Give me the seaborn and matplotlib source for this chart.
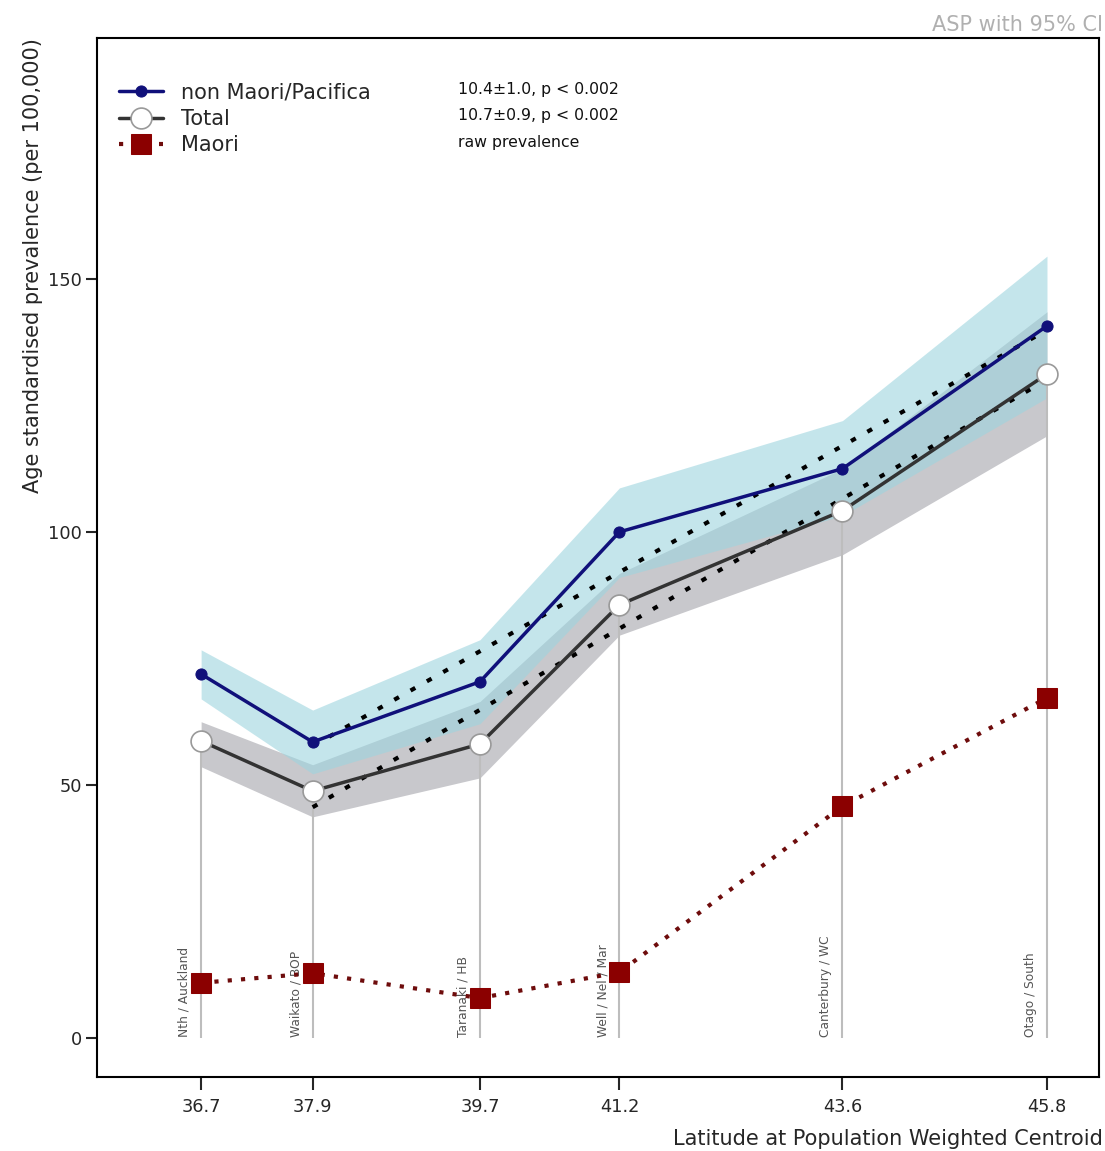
"""Age standardised prevalence by latitude of population weighted centroid."""

import matplotlib
matplotlib.use("Agg")
import matplotlib.pyplot as plt
import matplotlib.transforms as mtransforms
import seaborn as sns

sns.set_style("ticks")
plt.rcParams["font.family"] = ["DejaVu Sans"]

# --------------------------------------------------------------------------
# Data
# --------------------------------------------------------------------------

latitude = [36.7, 37.9, 39.7, 41.2, 43.6, 45.8]
regions = ["Nth / Auckland", "Waikato / BOP", "Taranaki / HB",
           "Well / Nel / Mar", "Canterbury / WC", "Otago / South"]

nonmaori = [71.9, 58.5, 70.4, 100.0, 112.5, 140.7]
nonmaori_lo = [67.0, 52.2, 62.1, 91.0, 103.2, 126.5]
nonmaori_hi = [76.7, 64.8, 78.7, 108.7, 122.0, 154.5]

total = [58.7, 48.8, 58.1, 85.6, 104.2, 131.2]
total_lo = [53.6, 43.7, 51.4, 79.6, 95.5, 119.0]
total_hi = [62.5, 54.0, 66.5, 91.8, 112.5, 143.5]

maori = [10.9, 12.8, 7.9, 13.0, 45.8, 67.2]

# fitted trend lines (start/end values)
fit_lat = [37.9, 45.8]
fit_nonmaori = [57.7, 139.9]
fit_total = [45.6, 130.1]

stats_text = ["10.4\u00b11.0, p < 0.002", "10.7\u00b10.9, p < 0.002", "raw prevalence"]

NAVY = "#10107a"
DARKRED = "#8b0000"

# --------------------------------------------------------------------------
# Plot
# --------------------------------------------------------------------------

fig = plt.figure(figsize=(11.05, 11.51), dpi=100)
ax = fig.add_axes([0.0878, 0.0643, 0.9068, 0.9027])

# confidence bands (blue drawn translucent over the grey one)
ax.fill_between(latitude, total_lo, total_hi, color="#c8c8cc", lw=0, zorder=1)
ax.fill_between(latitude, nonmaori_lo, nonmaori_hi, color="#9dd5df", alpha=0.6, lw=0, zorder=1.5)

# drop lines from zero to the total value
ax.vlines(latitude, 0, total, color="#bdbdbd", lw=1.5, zorder=2)

# trend lines
ax.plot(fit_lat, fit_nonmaori, color="black", lw=3, ls=(0, (1.3, 3.2)), zorder=3)
ax.plot(fit_lat, fit_total, color="black", lw=3, ls=(0, (1.3, 3.2)), zorder=3)

sns.lineplot(x=latitude, y=nonmaori, ax=ax, color=NAVY, lw=2.5, marker="o",
             markersize=8, markeredgecolor=NAVY, label="non Maori/Pacifica", zorder=5)
sns.lineplot(x=latitude, y=total, ax=ax, color="#333333", lw=2.5, marker="o",
             markersize=15, markerfacecolor="white", markeredgecolor="#999999",
             markeredgewidth=1.2, label="Total", zorder=5)
sns.lineplot(x=latitude, y=maori, ax=ax, color="#6e0c0c", lw=3, ls=(0, (1.0, 2.2)),
             marker="s", markersize=15, markerfacecolor=DARKRED, markeredgecolor=DARKRED,
             label="Maori", zorder=5)

# region labels along the bottom
offset = mtransforms.offset_copy(ax.transData, fig=fig, x=-12, y=1, units="points")
for lat, name in zip(latitude, regions):
    ax.text(lat, 0, name, rotation=90, ha="center", va="bottom", fontsize=8.8,
            color="#555555", transform=offset, zorder=4)

ax.set_xlim(35.58, 46.36)
ax.set_ylim(-7.7, 197.6)
ax.set_xticks(latitude)
ax.set_xticklabels([f"{v:.1f}" for v in latitude])
ax.set_yticks([0, 50, 100, 150])
ax.tick_params(axis="x", length=9, width=1.5, labelsize=12.8, pad=6)
ax.tick_params(axis="y", length=8, width=1.5, labelsize=12.8, pad=3)
for side in ["left", "right", "top", "bottom"]:
    ax.spines[side].set_visible(True)
    ax.spines[side].set_linewidth(1.5)
    ax.spines[side].set_color("black")

ax.set_xlabel("Latitude at Population Weighted Centroid", fontsize=15)
ax.xaxis.set_label_coords(1.004, -0.05)
ax.xaxis.label.set_ha("right")
ax.set_ylabel("Age standardised prevalence (per 100,000)", fontsize=15)
ax.yaxis.set_label_coords(-0.074, 1.0)
ax.yaxis.label.set_va("top")
ax.yaxis.label.set_ha("right")

leg = ax.legend(loc="upper left", bbox_to_anchor=(0.014, 0.965), frameon=False,
                fontsize=15, handlelength=2.1, handletextpad=0.85, labelspacing=0.3,
                borderaxespad=0)

for i, txt in enumerate(stats_text):
    ax.text(0.36, 0.9505 - i * 0.0255, txt, transform=ax.transAxes, fontsize=11.3,
            va="center", ha="left", color="#111111")

fig.text(0.998, 0.978, "ASP with 95% CI", ha="right", va="center", fontsize=15,
         color="#b0b0b0")

fig.savefig("out.png", dpi=100)
